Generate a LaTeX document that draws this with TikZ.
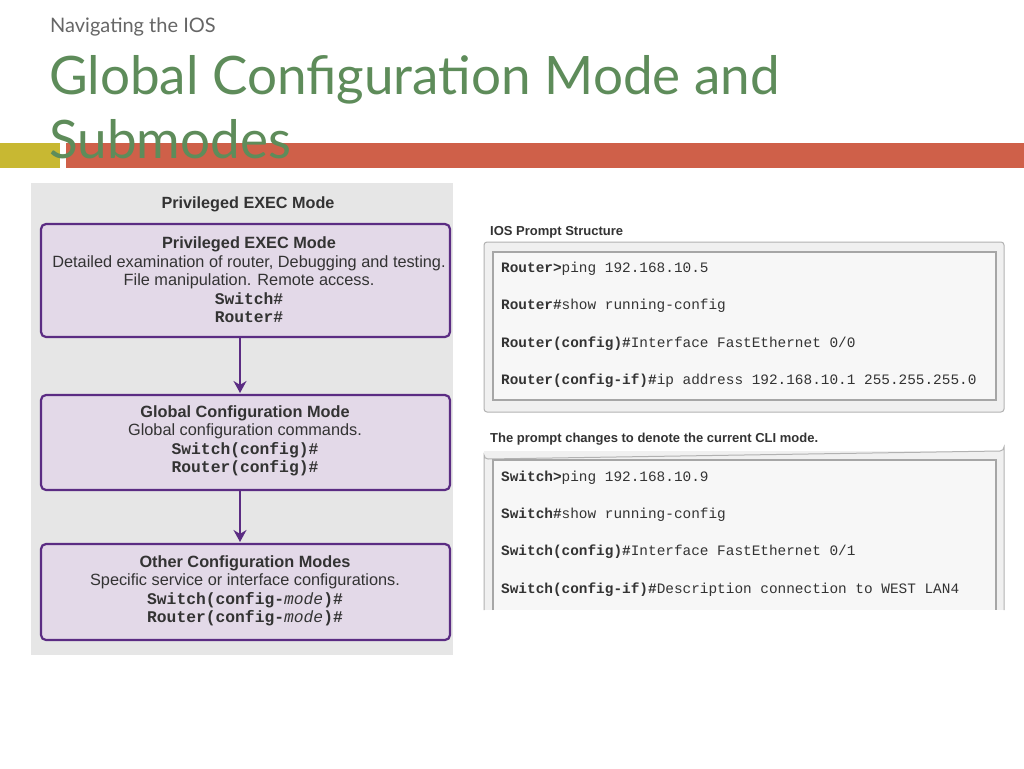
\documentclass[tikz,border=0pt]{standalone}
\usepackage{fontspec}
\usetikzlibrary{arrows.meta}
\setmainfont{Liberation Sans}
\newfontfamily\titlefont{Lato}
\newfontfamily\monof{Liberation Mono}
\definecolor{tgreen}{HTML}{5E8C5A}
\definecolor{olivebar}{HTML}{C8B832}
\definecolor{redbar}{HTML}{CF6049}
\definecolor{purp}{HTML}{5B2C83}
\definecolor{lfill}{HTML}{E3D9E8}
\definecolor{pgray}{HTML}{E6E6E6}
\definecolor{txt}{HTML}{333333}
\begin{document}
\begin{tikzpicture}[x=1pt,y=-1pt,
  modebox/.style={draw=purp,line width=2.2pt,fill=lfill,rounded corners=5pt},
  boxtxt/.style={align=center,font=\fontsize{16.3}{18.5}\selectfont,text=txt,inner sep=0},
  cmd/.style={anchor=west,font=\fontsize{14.4}{16}\selectfont\monof,text=txt,inner sep=0},
  bm/.style={font=\monof\bfseries\fontsize{16}{18.5}\selectfont},
  flow/.style={draw=purp,line width=2.4pt,-{Stealth[length=12pt,width=13pt]}}]
\useasboundingbox (0,0) rectangle (1024,768);
\fill[white] (0,0) rectangle (1024,768);
\node[anchor=base west,inner sep=0,text=gray!80!black,font=\fontsize{20}{24}\selectfont\titlefont] (sub) at (50,33) {Navigating the IOS};
\fill[olivebar] (0,143) rectangle (60,168);
\fill[redbar] (66,143) rectangle (1024,168);
\node[anchor=base west,inner sep=0,text=tgreen,font=\fontsize{53}{60}\selectfont\titlefont] (title1) at (49,94) {Global Configuration Mode and};
\node[anchor=base west,inner sep=0,text=tgreen,font=\fontsize{53}{60}\selectfont\titlefont] (title2) at (49,158) {Submodes};
% left panel
\fill[pgray] (31,183) rectangle (453,655);
\node[font=\bfseries\fontsize{16.2}{18}\selectfont,text=txt] (hdr) at (248,204) {Privileged EXEC Mode};
\draw[modebox] (41,224) rectangle (450,337);
\node[boxtxt] (t1) at (249,280) {\textbf{Privileged EXEC Mode}\\Detailed examination of router, Debugging and testing.\\File manipulation. Remote access.\\{\monof\bfseries Switch\#}\\{\monof\bfseries Router\#}};
\draw[modebox] (41,395) rectangle (450,490);
\node[boxtxt] (t2) at (245,441) {\textbf{Global Configuration Mode}\\Global configuration commands.\\{\monof\bfseries Switch(config)\#}\\{\monof\bfseries Router(config)\#}};
\draw[modebox] (41,544) rectangle (450,640);
\node[boxtxt] (t3) at (245,591) {\textbf{Other Configuration Modes}\\Specific service or interface configurations.\\{\monof\bfseries Switch(config-\textmd{\itshape mode})\#}\\{\monof\bfseries Router(config-\textmd{\itshape mode})\#}};
\coordinate (a1) at (240,338); \coordinate (b1) at (240,393);
\coordinate (a2) at (240,491); \coordinate (b2) at (240,542);
\draw[flow] (a1) -- (b1);
\draw[flow] (a2) -- (b2);
% right panels
\node[anchor=west,inner sep=0,font=\bfseries\fontsize{13}{15}\selectfont,text=txt] (h1) at (490,232) {IOS Prompt Structure};
\draw[gray!60,fill=gray!12,rounded corners=3pt,line width=1pt] (484,242) rectangle (1004,412);
\draw[gray!70,fill=gray!6,line width=2pt] (493,252) rectangle (996,400);
\node[cmd] (r1) at (501,269) {\textbf{Router>}ping 192.168.10.5};
\node[cmd] (r2) at (501,306) {\textbf{Router\#}show running-config};
\node[cmd] (r3) at (501,344) {\textbf{Router(config)\#}Interface FastEthernet 0/0};
\node[cmd] (r4) at (501,381) {\textbf{Router(config-if)\#}ip address 192.168.10.1 255.255.255.0};
\node[anchor=west,inner sep=0,font=\bfseries\fontsize{13}{15}\selectfont,text=txt] (h2) at (490,439) {The prompt changes to denote the current CLI mode.};
\fill[gray!12] (484,451) rectangle (1004,610);
\draw[gray!60,line width=1pt] (484,610) -- (484,455) arc[start angle=180,end angle=90,radius=4] -- (1000,451) arc[start angle=90,end angle=0,radius=4] -- (1004,610);
\fill[gray!6] (493,460) rectangle (996,610);
\draw[gray!70,line width=2pt] (493,610) -- (493,460) -- (996,460) -- (996,610);
\node[cmd] (s1) at (501,478) {\textbf{Switch>}ping 192.168.10.9};
\node[cmd] (s2) at (501,515) {\textbf{Switch\#}show running-config};
\node[cmd] (s3) at (501,552) {\textbf{Switch(config)\#}Interface FastEthernet 0/1};
\node[cmd] (s4) at (501,590) {\textbf{Switch(config-if)\#}Description connection to WEST LAN4};
\end{tikzpicture}
\end{document}
